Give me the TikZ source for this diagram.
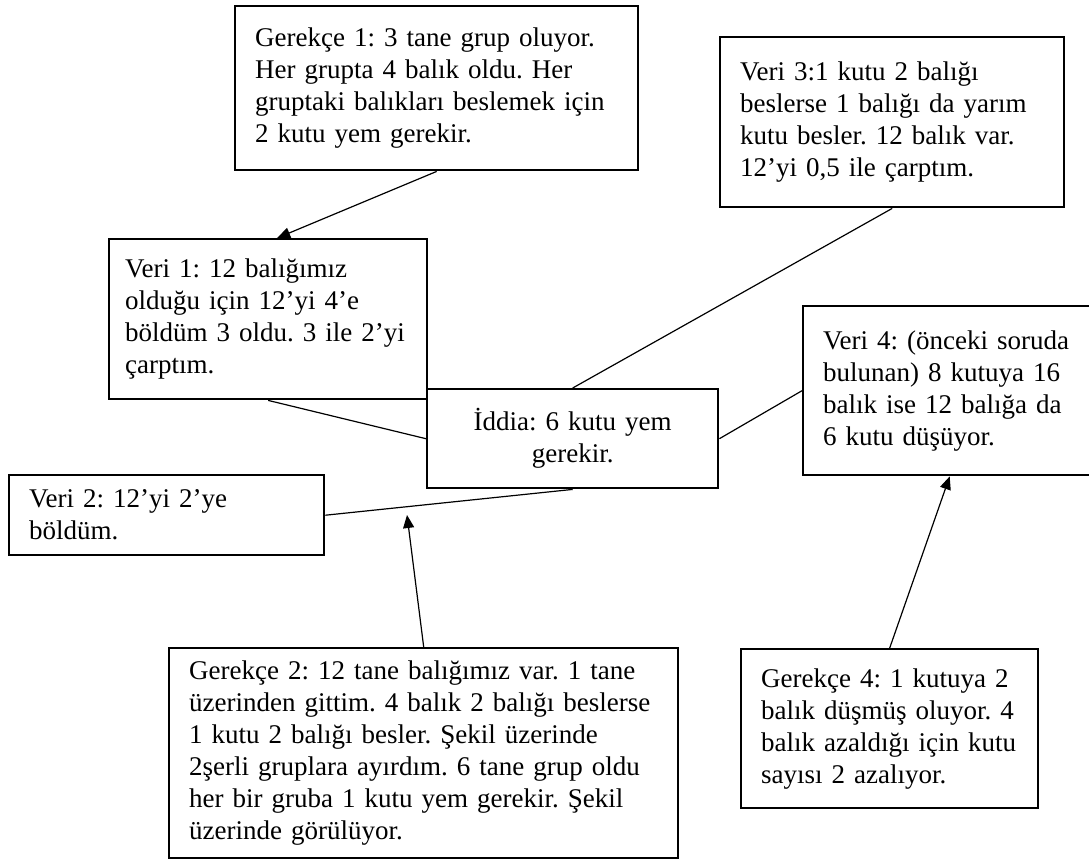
\documentclass[tikz,border=0pt]{standalone}
\usepackage{fontspec}
\setmainfont{Liberation Serif}
\usepackage{tikz}
\usetikzlibrary{arrows.meta, positioning}

\begin{document}
\frenchspacing
\begin{tikzpicture}[
    x=0.5pt, y=-0.5pt,
    font=\fontsize{13.5}{16}\selectfont,
    box/.style={rectangle, draw, line width=1.2pt, anchor=north west, align=left, inner xsep=10pt, inner ysep=0pt},
    claim/.style={box, align=center},
    link/.style={line width=0.6pt},
    arrow/.style={-{Triangle[length=6.5pt,width=5.5pt]}, line width=0.6pt}
]
\useasboundingbox (0,0) rectangle (1089,859);

% Claim
\node[claim, text width=125.5pt, minimum height=49.5pt] (iddia) at (426,388) {İddia: 6 kutu yem\\gerekir.};

% Data
\node[box, inner xsep=8pt, text width=143pt, minimum height=80pt] (veri1) at (108,238) {Veri 1: 12 balığımız\\olduğu için 12’yi 4’e\\böldüm 3 oldu. 3 ile 2’yi\\çarptım.};
\node[box, text width=137.5pt, minimum height=40pt] (veri2) at (8,474) {Veri 2: 12’yi 2’ye\\böldüm.};
\node[box, text width=152pt, minimum height=85pt] (veri3) at (719,36) {Veri 3:1 kutu 2 balığı\\beslerse 1 balığı da yarım\\kutu besler. 12 balık var.\\12’yi 0,5 ile çarptım.};
\node[box, text width=126.5pt, minimum height=84.5pt] (veri4) at (802,305) {Veri 4: (önceki soruda\\bulunan) 8 kutuya 16\\balık ise 12 balığa da\\6 kutu düşüyor.};

% Warrants
\node[box, text width=181.5pt, minimum height=82pt] (gerekce1) at (234,5) {Gerekçe 1: 3 tane grup oluyor.\\Her grupta 4 balık oldu. Her\\gruptaki balıkları beslemek için\\2 kutu yem gerekir.};
\node[box, text width=234.5pt, minimum height=105pt] (gerekce2) at (168,647) {Gerekçe 2: 12 tane balığımız var. 1 tane\\üzerinden gittim. 4 balık 2 balığı beslerse\\1 kutu 2 balığı besler. Şekil üzerinde\\2şerli gruplara ayırdım. 6 tane grup oldu\\her bir gruba 1 kutu yem gerekir. Şekil\\üzerinde görülüyor.};
\node[box, text width=128.5pt, minimum height=79.5pt] (gerekce4) at (740,648) {Gerekçe 4: 1 kutuya 2\\balık düşmüş oluyor. 4\\balık azaldığı için kutu\\sayısı 2 azalıyor.};

% Links
\draw[link] (veri1.south) -- (iddia.west);
\draw[link] (veri2.east) -- (iddia.south);
\draw[link] (veri3.south) -- (iddia.north);
\draw[link] (veri4.west) -- (iddia.east);

% Arrows
\coordinate (g2tip) at (407,515);
\draw[arrow] (gerekce1.south) -- ([xshift=4.5pt]veri1.north);
\draw[arrow] (gerekce2.north) -- (g2tip);
\draw[arrow] (gerekce4.north) -- (veri4.south);

\end{tikzpicture}
\end{document}
